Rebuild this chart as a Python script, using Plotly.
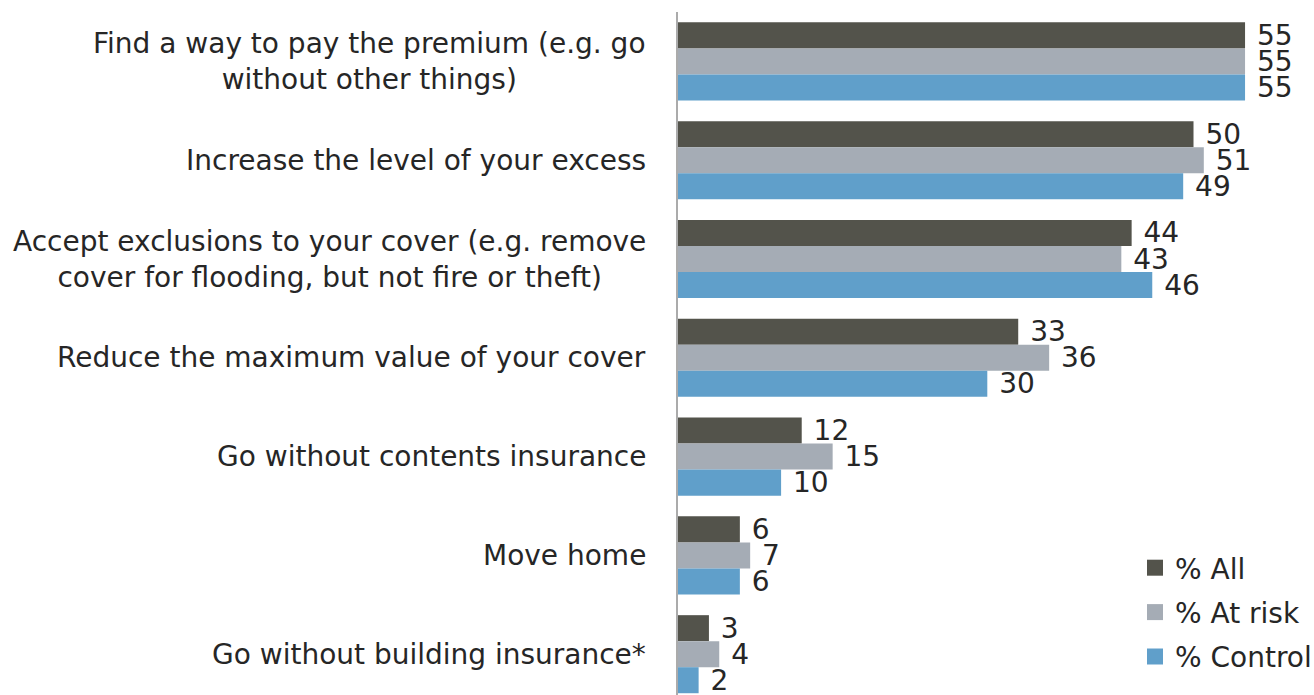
import plotly.graph_objects as go

# Survey responses: what people would do if insurance premiums rose
categories = [
    "Find a way to pay the premium (e.g. go<br>without other things)",
    "Increase the level of your excess",
    "Accept exclusions to your cover (e.g. remove<br>cover for flooding, but not fire or theft)",
    "Reduce the maximum value of your cover",
    "Go without contents insurance",
    "Move home",
    "Go without building insurance*",
]
series_names = ["% All", "% At risk", "% Control"]
all_vals = [55, 50, 44, 33, 12, 6, 3]
at_risk_vals = [55, 51, 43, 36, 15, 7, 4]
control_vals = [55, 49, 46, 30, 10, 6, 2]

colors = ["#53534B", "#A5ACB5", "#609FCA"]
FONT = "DejaVu Sans"
TEXT_COLOR = "#262626"

W, H = 1314, 695
LEFT, TOP = 678, 12
PX_PER_UNIT = 10.31
GROUP_PX = 98.8

fig = go.Figure()
for name, vals, col in zip(series_names, [all_vals, at_risk_vals, control_vals], colors):
    fig.add_trace(go.Bar(
        y=list(range(len(categories))),
        x=vals,
        orientation="h",
        marker=dict(color=col, line=dict(width=0)),
        text=vals,
        texttemplate=" %{x}",
        textposition="outside",
        constraintext="none",
        cliponaxis=False,
        textfont=dict(family=FONT, size=28, color=TEXT_COLOR),
        showlegend=False,
        hoverinfo="skip",
    ))

# Legend entries with larger square swatches
for i, (name, col) in enumerate(zip(series_names, colors)):
    fig.add_trace(go.Scatter(
        x=[None], y=[None], mode="markers", name=name,
        legendgroup=f"g{i}",
        marker=dict(symbol="square", size=16, color=col),
    ))

# Category labels: right-anchored blocks with centred lines
for i, cat in enumerate(categories):
    fig.add_annotation(
        x=0, y=i, xref="x", yref="y",
        text=cat, showarrow=False,
        xanchor="right", yanchor="middle", align="center",
        xshift=-30,
        font=dict(family=FONT, size=28, color=TEXT_COLOR),
    )

x_max = (W - LEFT) / PX_PER_UNIT
y_span = (H - TOP) / GROUP_PX

fig.update_layout(
    width=W, height=H,
    margin=dict(l=LEFT, r=0, t=TOP, b=0, pad=0, autoexpand=False),
    paper_bgcolor="white", plot_bgcolor="white",
    barmode="group", bargap=0.21, bargroupgap=0,
    font=dict(family=FONT, size=28, color=TEXT_COLOR),
    xaxis=dict(range=[0, x_max], showgrid=False, zeroline=False,
               showticklabels=False, showline=False, ticks=""),
    yaxis=dict(range=[-0.5 + y_span, -0.5], showgrid=False, zeroline=False,
               showticklabels=False, showline=True, linecolor="#ABABAB",
               linewidth=2, ticks=""),
    legend=dict(
        xref="container", yref="container",
        x=1135 / W, y=(H - 543) / H, xanchor="left", yanchor="top",
        font=dict(family=FONT, size=28, color=TEXT_COLOR),
        tracegroupgap=5, traceorder="grouped",
        itemwidth=30, bgcolor="rgba(0,0,0,0)",
    ),
)

fig.write_html("out.html")
